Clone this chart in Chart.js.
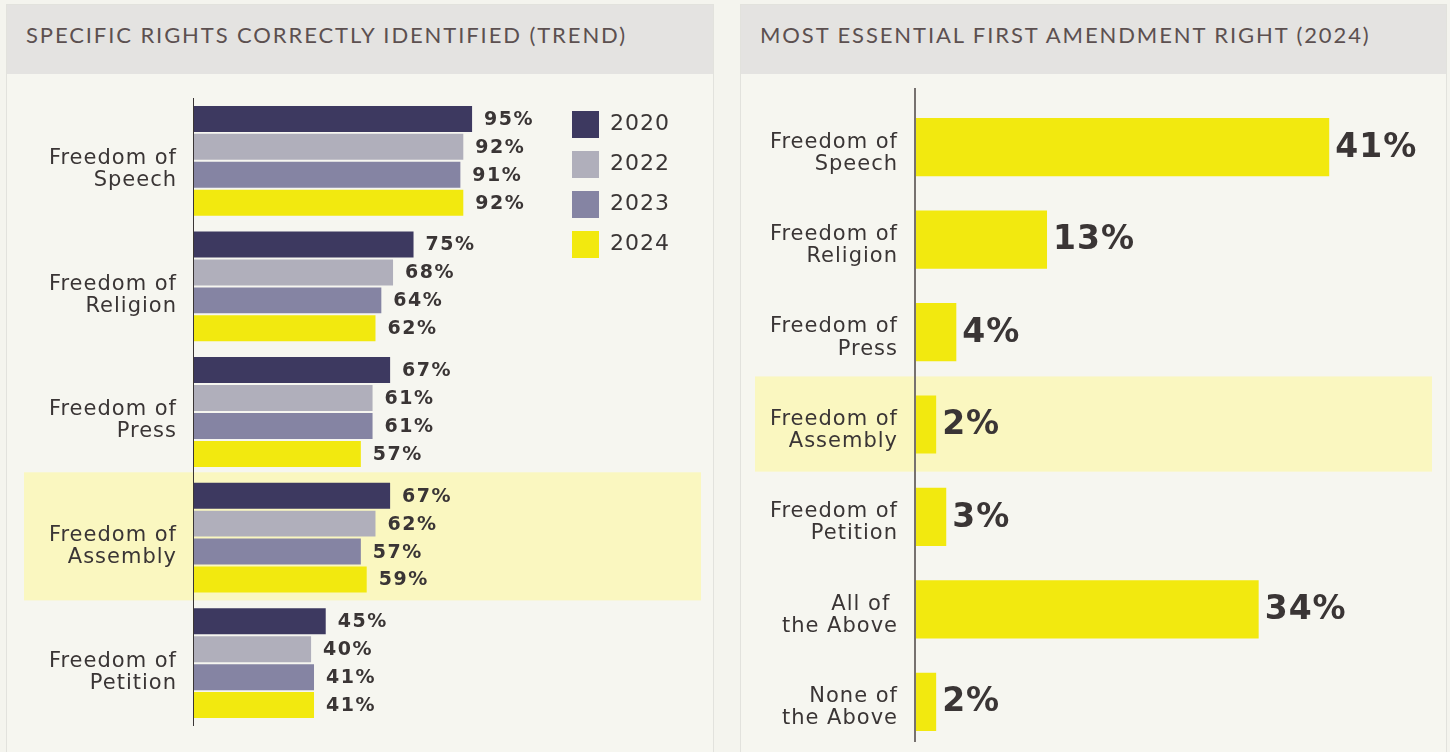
<!DOCTYPE html>
<html>
<head>
<meta charset="utf-8">
<title>First Amendment rights</title>
<script src="https://cdn.jsdelivr.net/npm/chart.js@4.4.1/dist/chart.umd.min.js"></script>
<style>
  html, body { margin: 0; padding: 0; width: 1450px; height: 752px; overflow: hidden; background: #f4f4ee; }
  .panel { position: absolute; top: 4px; height: 760px; background: #f6f6f0; border: 1px solid #e2e2dd; box-sizing: border-box; }
  .panel-head { height: 69px; background: #e4e3e1; color: #5c5050; font-family: Lato, sans-serif; font-size: 22px;
                letter-spacing: 1.9px; line-height: 60px; padding-left: 19px; }
  canvas { position: absolute; }
</style>
</head>
<body>
<div class="panel" style="left:6px; width:708px;">
  <div class="panel-head">SPECIFIC RIGHTS CORRECTLY IDENTIFIED (TREND)</div>
</div>
<div class="panel" style="left:740px; width:707px;">
  <div class="panel-head">MOST ESSENTIAL FIRST AMENDMENT RIGHT (2024)</div>
</div>
<canvas id="trendChart" style="left:8px; top:74px;"></canvas>
<canvas id="essentialChart" style="left:741px; top:74px;"></canvas>

<script>
// rights recognised, by survey year
const rights = [['Freedom of', 'Speech'], ['Freedom of', 'Religion'], ['Freedom of', 'Press'], ['Freedom of', 'Assembly'], ['Freedom of', 'Petition']];
const years = ['2020', '2022', '2023', '2024'];
const pct2020 = [95, 75, 67, 67, 45];
const pct2022 = [92, 68, 61, 62, 40];
const pct2023 = [91, 64, 61, 57, 41];
const pct2024 = [92, 62, 57, 59, 41];
const yearColors = ['#3d3960', '#b0afbb', '#8584a3', '#f2e90f'];

// most essential right, 2024
const essentialLabels = [['Freedom of', 'Speech'], ['Freedom of', 'Religion'], ['Freedom of', 'Press'], ['Freedom of', 'Assembly'],
    ['Freedom of', 'Petition'], ['All of ', 'the Above'], ['None of', 'the Above']];
const essentialPct = [41, 13, 4, 2, 3, 34, 2];

const textColor = '#3a3535';
const highlightColor = '#faf7c0';

Chart.defaults.color = textColor;
Chart.defaults.font.family = '"DejaVu Sans", sans-serif';

// shaded band behind one category (drawn before the axes)
const highlightBand = {
    id: 'highlightBand',
    beforeDraw(chart, args, opts) {
        const yScale = chart.scales.y;
        const center = yScale.getPixelForValue(opts.index);
        const step = yScale.getPixelForValue(1) - yScale.getPixelForValue(0);
        const ctx = chart.ctx;
        ctx.save();
        ctx.fillStyle = highlightColor;
        ctx.fillRect(opts.left, center - step * opts.above, opts.right - opts.left, step * (opts.above + opts.below));
        ctx.restore();
    }
};

// vertical axis line, optionally running past the plot area
const axisLine = {
    id: 'axisLine',
    beforeDatasetsDraw(chart, args, opts) {
        const area = chart.chartArea;
        const ctx = chart.ctx;
        ctx.save();
        ctx.strokeStyle = opts.color;
        ctx.lineWidth = opts.width;
        ctx.beginPath();
        ctx.moveTo(area.left - opts.width / 2, area.top - opts.above);
        ctx.lineTo(area.left - opts.width / 2, area.bottom + opts.below);
        ctx.stroke();
        ctx.restore();
    }
};

// percent labels at the end of every bar
const valueLabels = {
    id: 'valueLabels',
    afterDatasetsDraw(chart, args, opts) {
        const ctx = chart.ctx;
        ctx.save();
        ctx.font = opts.font;
        ctx.letterSpacing = opts.spacing;
        ctx.fillStyle = textColor;
        ctx.textAlign = 'left';
        ctx.textBaseline = 'middle';
        chart.data.datasets.forEach((ds, i) => {
            chart.getDatasetMeta(i).data.forEach((bar, j) => {
                ctx.fillText(ds.data[j] + '%', bar.x + opts.offset, bar.y + 1);
            });
        });
        ctx.restore();
    }
};

const spacedText = {
    id: 'spacedText',
    beforeDraw(chart) {
        chart.ctx.letterSpacing = '1px';
    }
};

// fixed label column; drop the extra room the tick labels ask for above and below
function fixedAxis(width) {
    return function (scale) {
        scale.width = width;
        scale.paddingTop = 0;
        scale.paddingBottom = 0;
    };
}

const trendCanvas = document.getElementById('trendChart');
trendCanvas.width = 704;
trendCanvas.height = 678;

const trendChart = new Chart(trendCanvas, {
    type: 'bar',
    data: {
        labels: rights,
        datasets: [pct2020, pct2022, pct2023, pct2024].map((values, i) => ({
            label: years[i],
            data: values,
            backgroundColor: yearColors[i],
            categoryPercentage: 0.89,
            barPercentage: 0.93
        }))
    },
    options: {
        indexAxis: 'y',
        responsive: false,
        animation: false,
        layout: { padding: { top: 24, bottom: 26, left: 0, right: 36 } },
        scales: {
            x: { display: false, min: 0, max: 124.7 },
            y: {
                grid: { display: false, drawTicks: false },
                border: { display: false },
                ticks: { padding: 17, labelOffset: 9, font: { size: 21, lineHeight: 1.05 } },
                afterFit: fixedAxis(186)
            }
        },
        plugins: {
            legend: {
                position: 'right',
                align: 'start',
                labels: { boxWidth: 27, boxHeight: 27, padding: 13, font: { size: 22 }, color: textColor }
            },
            tooltip: { enabled: false },
            highlightBand: { index: 3, left: 16, right: 693, above: 0.52, below: 0.5 },
            axisLine: { color: '#3a3535', width: 1, above: 0, below: 0 },
            valueLabels: { font: 'bold 19px "DejaVu Sans"', spacing: '1.5px', offset: 12 }
        }
    },
    plugins: [spacedText, highlightBand, axisLine, valueLabels]
});

const essentialCanvas = document.getElementById('essentialChart');
essentialCanvas.width = 704;
essentialCanvas.height = 678;

const essentialChart = new Chart(essentialCanvas, {
    type: 'bar',
    data: {
        labels: essentialLabels,
        datasets: [{
            label: '2024',
            data: essentialPct,
            backgroundColor: '#f2e90f',
            categoryPercentage: 1,
            barPercentage: 0.63
        }]
    },
    options: {
        indexAxis: 'y',
        responsive: false,
        animation: false,
        layout: { padding: { top: 27, bottom: 4, left: 0, right: 15 } },
        scales: {
            x: { display: false, min: 0, max: 51 },
            y: {
                grid: { display: false, drawTicks: false },
                border: { display: false },
                ticks: { padding: 18, labelOffset: 6, font: { size: 21, lineHeight: 1.05 } },
                afterFit: fixedAxis(175)
            }
        },
        plugins: {
            legend: { display: false },
            tooltip: { enabled: false },
            highlightBand: { index: 3, left: 14, right: 691, above: 0.52, below: 0.51 },
            axisLine: { color: '#77716f', width: 2, above: 13, below: -6 },
            valueLabels: { font: 'bold 33px "DejaVu Sans"', spacing: '1px', offset: 6 }
        }
    },
    plugins: [spacedText, highlightBand, axisLine, valueLabels]
});
</script>
</body>
</html>
